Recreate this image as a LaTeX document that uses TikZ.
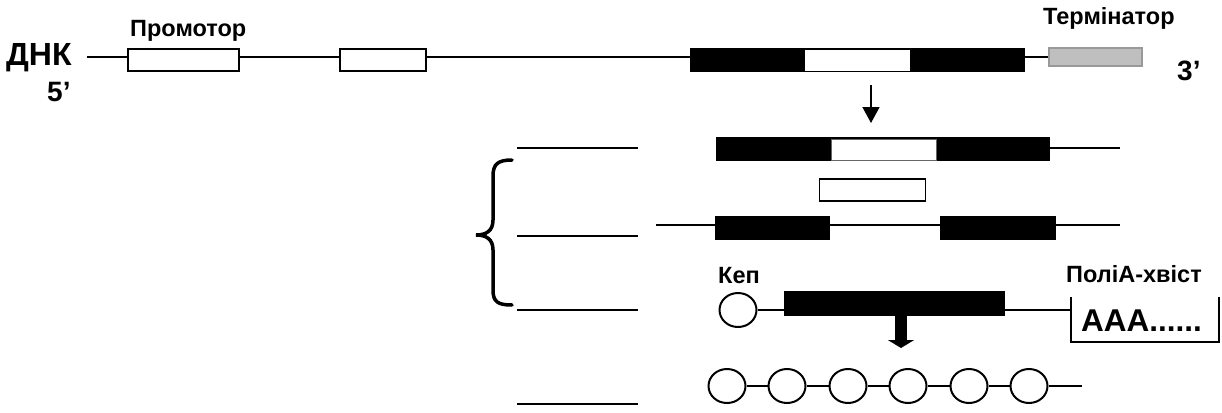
\documentclass[tikz,border=0pt]{standalone}
\usepackage{fontspec}
\setmainfont{Liberation Sans}
\usetikzlibrary{arrows.meta,shapes.geometric}

\begin{document}
\begin{tikzpicture}[x=1pt,y=-1pt,
  lbl/.style={font=\bfseries\fontsize{23.5}{28}\selectfont, anchor=base west, inner sep=0},
  big/.style={font=\bfseries\fontsize{32}{38}\selectfont, anchor=base west, inner sep=0},
  prime/.style={font=\bfseries\fontsize{28}{33}\selectfont, anchor=base west, inner sep=0},
  openbox/.style={draw=black, line width=2, fill=white, inner sep=0, minimum height=22},
  intron/.style={draw=black, line width=1.5, fill=white, inner sep=0},
  exon/.style={fill=black, draw=none, inner sep=0, minimum height=24},
  termbox/.style={draw=black!40, line width=2, fill=black!25, inner sep=0},
  strand/.style={line width=2},
  thin/.style={line width=1.5},
  bead/.style={ellipse, draw=black, line width=2, fill=white, inner sep=0,
    minimum width=37, minimum height=34},
  guide/.style={line width=2},
  thinarrow/.style={line width=1.5, -{Triangle[width=17pt,length=16pt]}},
  bigarrow/.style={line width=12, -{Triangle[width=26pt,length=8pt]}},
]
\useasboundingbox (0,0) rectangle (1222,412);

% ---------- gene on DNA ----------
\node[big] (dna) at (6,66) {ДНК};
\node[prime] (five) at (47,101) {5’};
\node[prime] (three) at (1177,81) {3’};
\coordinate (dnastart) at (87,57);

\node[openbox, minimum width=111] (prom) at (183.5,60) {};
\node[openbox, minimum width=86] (box2) at (383,60) {};
\node[exon, minimum width=335] (gene) at (857.5,60) {};
\node[fill=white, inner sep=0, minimum width=105, minimum height=21] (geneintron) at (857.5,60.5) {};
\node[termbox, minimum width=93, minimum height=18] (term) at (1095.5,57) {};

\node[lbl] (promlbl) at (130,37) {Промотор};
\node[lbl] (termlbl) at (1043,25) {Термінатор};

\draw[strand] (dnastart) -- (dnastart -| prom.west);
\draw[strand] (prom.east |- dnastart) -- (box2.west |- dnastart);
\draw[strand] (box2.east |- dnastart) -- (gene.west |- dnastart);
\draw[strand] (gene.east |- dnastart) -- (term.west |- dnastart);

% transcription arrow
\coordinate (tr1) at (871,85);
\coordinate (tr2) at (871,123);
\draw[thinarrow] (tr1) -- (tr2);

% ---------- pre-mRNA ----------
\node[exon, minimum width=334] (pre) at (883,149) {};
\node[intron, draw=black!60, line width=1, minimum width=105, minimum height=21] (preintron) at (883.5,149.5) {};
\coordinate (preend) at (1120,148);
\draw[thin] (pre.east |- preend) -- (preend);

% ---------- excised intron ----------
\node[intron, minimum width=106, minimum height=22] (cut) at (872.5,190) {};

% ---------- separated exons ----------
\coordinate (r4s) at (656,225);
\coordinate (r4e) at (1120,225);
\node[exon, minimum width=115] (exa) at (772.5,228) {};
\node[exon, minimum width=116] (exb) at (998,228) {};
\draw[thin] (r4s) -- (r4s -| exa.west);
\draw[thin] (exa.east |- r4s) -- (exb.west |- r4s);
\draw[thin] (exb.east |- r4s) -- (r4e);

% ---------- mature mRNA ----------
\node[lbl] (caplbl) at (718,283) {Кеп};
\node[bead] (cap) at (738,310) {};
\node[exon, minimum width=221, minimum height=25] (mrna) at (894.5,303.5) {};
\coordinate (pa1) at (1071,297);
\coordinate (pa2) at (1071,342);
\coordinate (pa3) at (1219,342);
\coordinate (pa4) at (1219,297);
\draw[thin] (pa1) -- (pa2) -- (pa3) -- (pa4);
\draw[thin] (cap.east) -- (cap.east -| mrna.west);
\draw[thin] (mrna.east |- cap.east) -- (cap.east -| pa1);
\node[lbl] (palbl) at (1066,282) {ПоліА-хвіст};
\node[font=\bfseries\fontsize{31.5}{38}\selectfont, anchor=base west, inner sep=0] (aaa) at (1081,331) {AAA......};

% translation arrow
\coordinate (tl1) at (901,300);
\coordinate (tl2) at (901,348);
\draw[bigarrow] (tl1) -- (tl2);

% ---------- polypeptide ----------
\foreach \i/\x in {1/727,2/787,3/848,4/908,5/969,6/1029}
  \node[bead] (aa\i) at (\x,386) {};
\coordinate (chainend) at (1082,386);
\draw[thin] (aa1) -- (aa2);
\draw[thin] (aa2) -- (aa3);
\draw[thin] (aa3) -- (aa4);
\draw[thin] (aa4) -- (aa5);
\draw[thin] (aa5) -- (aa6);
\draw[thin] (aa6) -- (chainend);

% ---------- level guides and brace ----------
\foreach \n/\y in {1/148,2/236,3/310,4/404} {
  \coordinate (g\n a) at (517,\y);
  \coordinate (g\n b) at (638,\y);
  \draw[guide] (g\n a) -- (g\n b);
}
\coordinate (brtop) at (512,160);
\coordinate (brmid) at (476,235);
\coordinate (brbot) at (512,305);
\draw[line width=3.5, line cap=round]
  (brtop) .. controls (498,160) and (493,164) .. (493,176)
  -- (493,220) .. controls (493,231) and (486,235) .. (brmid)
  .. controls (486,235) and (493,239) .. (493,250)
  -- (493,290) .. controls (493,302) and (498,305) .. (brbot);
\end{tikzpicture}
\end{document}
